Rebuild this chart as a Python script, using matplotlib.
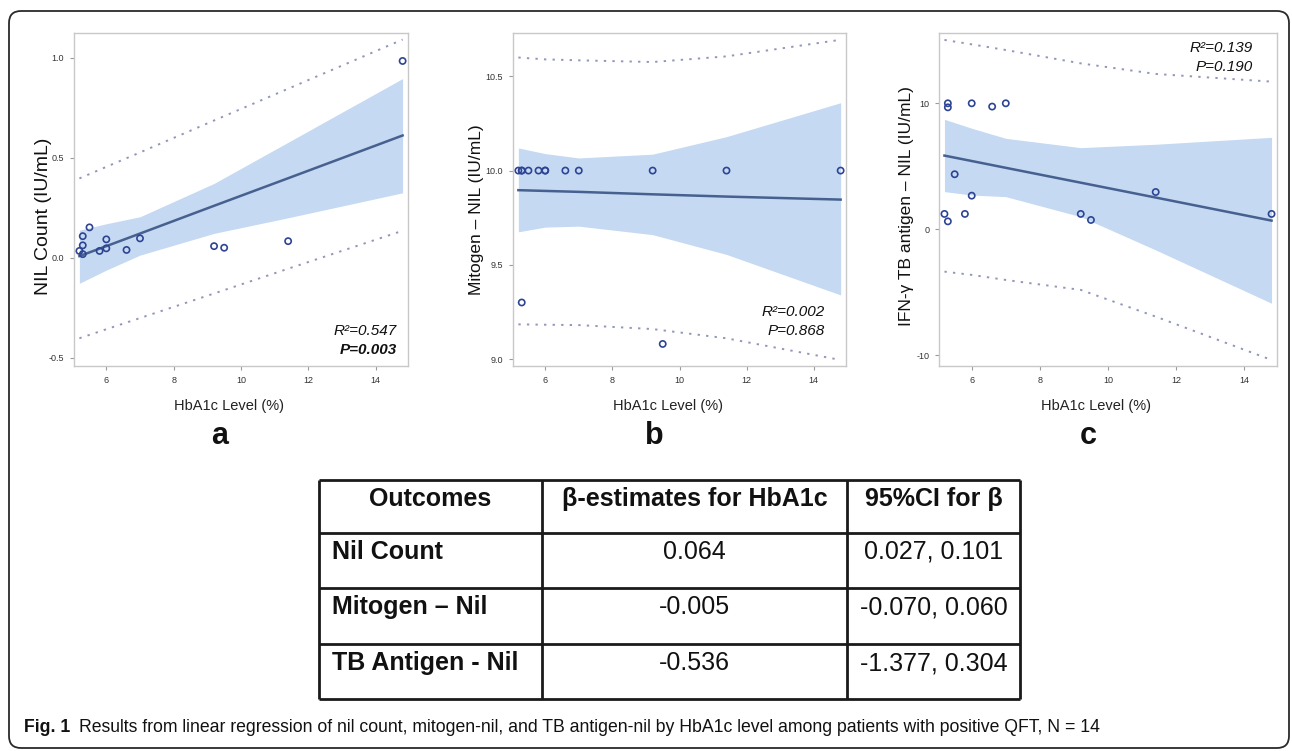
import matplotlib
matplotlib.use("Agg")
import matplotlib.pyplot as plt
from matplotlib.patches import FancyBboxPatch
from matplotlib.ticker import FormatStrFormatter

# HbA1c (%) of the 14 QFT-positive patients
hba1c = [5.2, 5.3, 5.3, 5.3, 5.5, 5.8, 6.0, 6.0, 6.6, 7.0, 9.2, 9.5, 11.4, 14.8]
nil_count = [0.034, 0.108, 0.062, 0.018, 0.152, 0.034, 0.092, 0.047, 0.039, 0.097, 0.058, 0.050, 0.083, 0.985]
mitogen_nil = [10.0, 10.0, 10.0, 9.30, 10.0, 10.0, 10.0, 10.0, 10.0, 10.0, 10.0, 9.08, 10.0, 10.0]
tb_nil = [1.22, 10.0, 9.68, 0.63, 4.37, 1.22, 10.0, 2.67, 9.74, 10.0, 1.22, 0.74, 2.96, 1.22]

# fitted line, 95% CI band and prediction limits, read at these HbA1c values
band_x = [5.2, 6.0, 7.0, 9.2, 11.4, 14.8]

fit_a = [0.008, 0.058, 0.121, 0.260, 0.398, 0.612]
ci_lo_a = [-0.128, -0.062, 0.013, 0.122, 0.200, 0.325]
ci_hi_a = [0.138, 0.170, 0.205, 0.372, 0.578, 0.897]
pi_lo_a = [-0.403, -0.358, -0.302, -0.179, -0.055, 0.135]
pi_hi_a = [0.397, 0.455, 0.527, 0.687, 0.846, 1.092]

fit_b = [9.896, 9.892, 9.887, 9.874, 9.862, 9.846]
ci_lo_b = [9.675, 9.700, 9.705, 9.660, 9.555, 9.340]
ci_hi_b = [10.12, 10.09, 10.067, 10.087, 10.18, 10.36]
pi_lo_b = [9.184, 9.182, 9.180, 9.159, 9.110, 8.995]
pi_hi_b = [10.600, 10.590, 10.585, 10.576, 10.606, 10.694]

fit_c = [5.85, 5.42, 4.88, 3.70, 2.52, 0.69]
ci_lo_c = [2.99, 2.72, 2.59, 1.00, -1.64, -5.87]
ci_hi_c = [8.73, 8.02, 7.22, 6.48, 6.75, 7.30]
pi_lo_c = [-3.36, -3.62, -4.02, -4.81, -6.93, -10.37]
pi_hi_c = [15.03, 14.68, 14.23, 13.17, 12.33, 11.72]

stats_a = ["R²=0.547", "P=0.003"]
stats_b = ["R²=0.002", "P=0.868"]
stats_c = ["R²=0.139", "P=0.190"]

table_header = ["Outcomes", "β-estimates for HbA1c", "95%CI for β"]
outcomes = ["Nil Count", "Mitogen – Nil", "TB Antigen - Nil"]
beta = ["0.064", "-0.005", "-0.536"]
ci95 = ["0.027, 0.101", "-0.070, 0.060", "-1.377, 0.304"]

caption_head = "Fig. 1"
caption_body = ("Results from linear regression of nil count, mitogen-nil, and TB antigen-nil "
                "by HbA1c level among patients with positive QFT, N = 14")

ARIAL = ["Liberation Sans", "DejaVu Sans"]
plt.rcParams["font.family"] = ARIAL

W, H = 1292, 751
fig = plt.figure(figsize=(W / 100, H / 100), dpi=100)
fig.patch.set_facecolor("white")

# pixel overlay for frame, table, labels and caption
ov = fig.add_axes([0, 0, 1, 1], zorder=-1)
ov.set_xlim(0, W)
ov.set_ylim(H, 0)
ov.axis("off")
ov.add_patch(FancyBboxPatch((9, 11), 1280, 737, boxstyle="round,pad=0,rounding_size=12",
                            fc="none", ec="#2a2a2a", lw=1.3))


def panel(rect, y, fit, ci_lo, ci_hi, pi_lo, pi_hi, ylim, yticks, fmt, ylabel, ylab_xy, ylab_size,
          stats, stat_xy, bold_p=False):
    ax = fig.add_axes([rect[0] / W, 1 - rect[3] / H, (rect[2] - rect[0]) / W, (rect[3] - rect[1]) / H])
    ax.fill_between(band_x, ci_lo, ci_hi, color="#c5d9f2", lw=0, zorder=1)
    ax.plot(band_x, fit, color="#46618f", lw=1.8, zorder=2)
    ax.plot(band_x, pi_lo, color="#9297b8", lw=1.4, ls=(0, (1.2, 3.2)), zorder=2)
    ax.plot(band_x, pi_hi, color="#9297b8", lw=1.4, ls=(0, (1.2, 3.2)), zorder=2)
    ax.scatter(hba1c, y, s=20, facecolors="none", edgecolors="#2d4494", linewidths=1.2, zorder=3)
    ax.set_xlim(5.04, 14.96)
    ax.set_ylim(*ylim)
    ax.set_xticks([6, 8, 10, 12, 14])
    ax.set_yticks(yticks)
    ax.yaxis.set_major_formatter(FormatStrFormatter(fmt))
    for s in ax.spines.values():
        s.set_color("#c8c8c8")
        s.set_linewidth(1.0)
    ax.tick_params(labelsize=6.5, colors="#9a9a9a", labelcolor="#333333", length=3, width=0.8, pad=4)
    ax.set_ylabel(ylabel, fontsize=ylab_size, color="#111111")
    ax.yaxis.set_label_coords(*ylab_xy)
    ax.set_xlabel("HbA1c Level (%)", fontsize=10.5, color="#222222")
    ax.xaxis.set_label_coords(0.465, -0.1)
    ax.text(stat_xy[0], stat_xy[1], stats[0], transform=ax.transAxes, ha="right", va="center",
            fontsize=11, style="italic", color="#111111")
    ax.text(stat_xy[0], stat_xy[1] - 0.058, stats[1], transform=ax.transAxes, ha="right", va="center",
            fontsize=11, style="italic", color="#111111",
            weight="bold" if bold_p else "normal")
    return ax


panel((74, 33, 408, 366), nil_count, fit_a, ci_lo_a, ci_hi_a, pi_lo_a, pi_hi_a,
      (-0.542, 1.125), [-0.5, 0.0, 0.5, 1.0], "%.1f", "NIL Count (IU/mL)", (-0.066, 0.45), 14,
      stats_a, (0.967, 0.105), bold_p=True)
panel((513, 33, 846, 366), mitogen_nil, fit_b, ci_lo_b, ci_hi_b, pi_lo_b, pi_hi_b,
      (8.963, 10.73), [9.0, 9.5, 10.0, 10.5], "%.1f", "Mitogen – NIL (IU/mL)", (-0.087, 0.47), 12.5,
      stats_b, (0.937, 0.162))
panel((939, 33, 1277, 366), tb_nil, fit_c, ci_lo_c, ci_hi_c, pi_lo_c, pi_hi_c,
      (-10.85, 15.58), [-10, 0, 10], "%d", "IFN-γ TB antigen – NIL (IU/mL)", (-0.074, 0.48), 12.5,
      stats_c, (0.929, 0.955))

for letter, x in zip(["a", "b", "c"], [220, 654, 1088]):
    ov.text(x, 436, letter, ha="center", va="center", fontsize=22, weight="bold", color="#111111")

# table
col_edges = [319, 542, 847, 1020]
row_edges = [480, 533, 588, 644, 699]
ov.vlines(col_edges, row_edges[0], row_edges[-1], color="#1a1a1a", lw=2.0)
ov.hlines(row_edges, col_edges[0], col_edges[-1], color="#1a1a1a", lw=2.0)
centers = [(a + b) / 2 for a, b in zip(col_edges[:-1], col_edges[1:])]
for cx, label in zip(centers, table_header):
    ov.text(cx, row_edges[0] + 19, label, ha="center", va="center", fontsize=18,
            weight="bold", color="#111111")
for i in range(len(outcomes)):
    ty = row_edges[i + 1] + 19
    ov.text(col_edges[0] + 13, ty, outcomes[i], ha="left", va="center", fontsize=18,
            weight="bold", color="#111111")
    ov.text(centers[1], ty, beta[i], ha="center", va="center", fontsize=18, color="#111111")
    ov.text(centers[2], ty, ci95[i], ha="center", va="center", fontsize=18, color="#111111")

# caption
head = ov.text(24, 727, caption_head, ha="left", va="center", fontsize=12.7, weight="bold",
               color="#111111")
ov.annotate(caption_body, xy=(1, 0.5), xycoords=head, xytext=(6, 0), textcoords="offset points",
            ha="left", va="center", fontsize=12.7, color="#111111")

fig.savefig("out.png", dpi=100)
